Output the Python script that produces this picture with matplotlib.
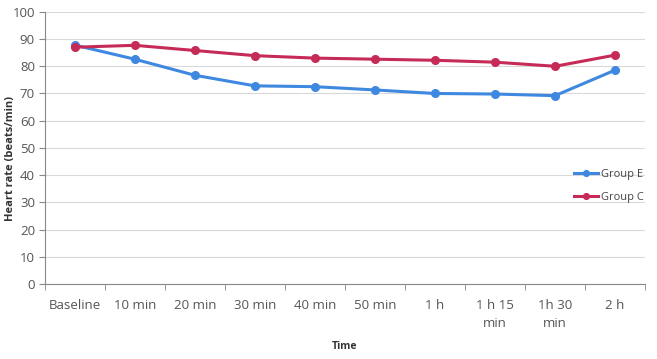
import matplotlib.pyplot as plt
from matplotlib.ticker import FixedLocator

# Daten
times = ["Baseline", "10 min", "20 min", "30 min", "40 min", "50 min",
         "1 h", "1 h 15\nmin", "1h 30\nmin", "2 h"]
group_e = [87.8, 82.6, 76.7, 72.8, 72.5, 71.3, 70.0, 69.8, 69.2, 78.6]
group_c = [87.0, 87.7, 85.8, 83.9, 83.0, 82.6, 82.2, 81.5, 80.0, 84.1]

blue = "#3f88e0"
red = "#c62a57"
grey = "#555555"

plt.rcParams['font.family'] = ['Open Sans', 'DejaVu Sans']

fig = plt.figure(figsize=(6.57, 3.59), dpi=100)
ax = fig.add_axes([0.068, 0.209, 0.914, 0.758])

x = list(range(len(times)))
ax.plot(x, group_e, color=blue, lw=2.2, marker="o", ms=5.5, label="Group E", zorder=3)
ax.plot(x, group_c, color=red, lw=2.2, marker="o", ms=5.5, label="Group C", zorder=3)

ax.set_xlim(-0.5, len(times) - 0.5)
ax.set_ylim(0, 100)
ax.set_yticks(range(0, 101, 10))
ax.set_xticks(x)
ax.set_xticklabels(times, fontsize=9.5, color=grey, linespacing=1.5)
ax.xaxis.set_minor_locator(FixedLocator([i - 0.5 for i in range(len(times) + 1)]))
ax.tick_params(axis="x", which="major", length=0, pad=11)
ax.tick_params(axis="x", which="minor", length=4, color="#888888")
ax.tick_params(axis="y", labelsize=9.5, labelcolor=grey, length=4, color="#888888", pad=3)

ax.grid(axis="y", color="#d9d9d9", lw=0.8)
ax.set_axisbelow(True)
for s in ["top", "right"]:
    ax.spines[s].set_visible(False)
for s in ["left", "bottom"]:
    ax.spines[s].set_color("#888888")

ax.set_ylabel("Heart rate (beats/min)", fontsize=8, fontweight="bold", color="#333333")
ax.yaxis.set_label_coords(-0.048, 0.46)
ax.set_xlabel("Time", fontsize=7.5, fontweight="bold", color="#333333", labelpad=8)

ax.legend(loc="upper left", bbox_to_anchor=(0.874, 0.44), frameon=False,
          fontsize=8, handlelength=2.2, labelspacing=1.1, handletextpad=0.2,
          markerscale=0.75, borderaxespad=0, labelcolor="#444444")

fig.savefig("out.png", dpi=100)
